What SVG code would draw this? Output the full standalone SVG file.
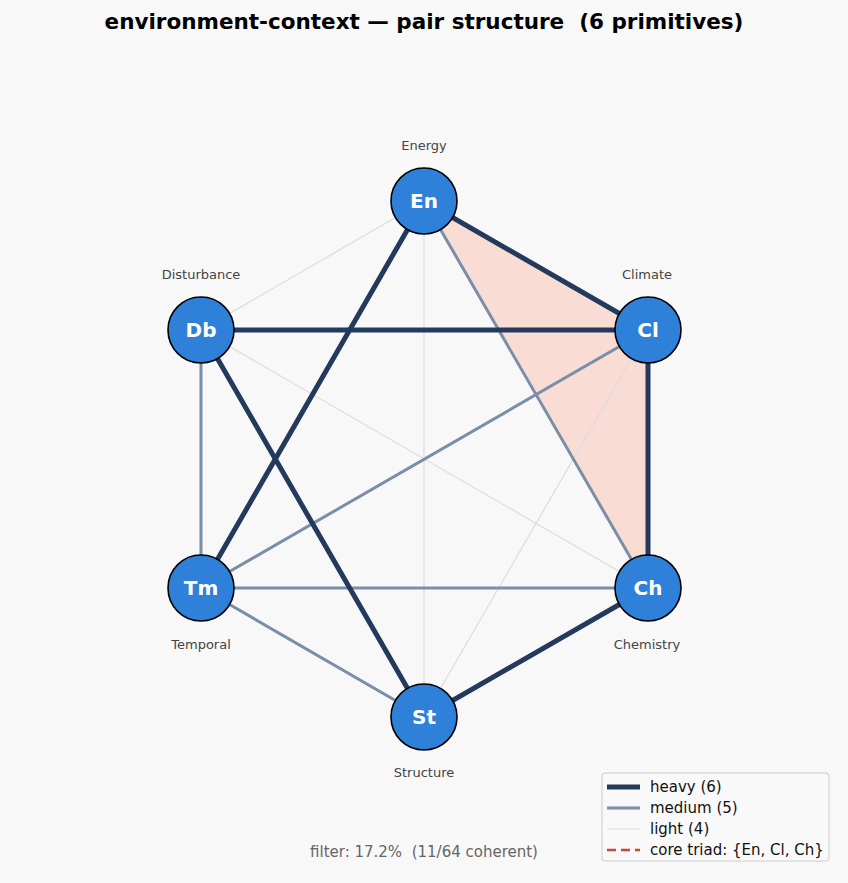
<svg xmlns="http://www.w3.org/2000/svg" width="848" height="883" viewBox="0 0 848 883">
<style>
.bg{fill:#f8f8f8}
text{white-space:pre}
.title{font-family:"DejaVu Sans",sans-serif;font-weight:bold;font-size:21.5px;fill:#000;text-anchor:middle}
.heavy{stroke:#233a5c;stroke-width:5;stroke-linecap:round;fill:none}
.medium{stroke:#7a8ea8;stroke-width:3;fill:none}
.light{stroke:#dcdcdc;stroke-width:1.2;fill:none}
.node circle{fill:#2f80d8;stroke:#000;stroke-width:1.6}
.node .ab{font-family:"DejaVu Sans",sans-serif;font-weight:bold;font-size:20px;fill:#fff;text-anchor:middle}
.node .nm{font-family:"DejaVu Sans",sans-serif;font-size:13px;fill:#444;text-anchor:middle}
.lg{font-family:"DejaVu Sans",sans-serif;font-size:15px;fill:#111}
.foot{font-family:"DejaVu Sans",sans-serif;font-size:15px;fill:#666;text-anchor:middle}
</style>
<rect class="bg" x="0" y="0" width="848" height="883"/>
<text class="title" x="424" y="29" xml:space="preserve">environment-context — pair structure  (6 primitives)</text>
<polygon id="triad" points="424,201 648,330 648,588" fill="#f9ddd5" stroke="none"/>
<g id="connectors">
<line class="light" x1="424" y1="201" x2="201" y2="330"/>
<line class="light" x1="424" y1="201" x2="424" y2="717"/>
<line class="light" x1="201" y1="330" x2="648" y2="588"/>
<line class="light" x1="648" y1="330" x2="424" y2="717"/>
<line class="medium" x1="424" y1="201" x2="648" y2="588"/>
<line class="medium" x1="648" y1="330" x2="201" y2="588"/>
<line class="medium" x1="201" y1="330" x2="201" y2="588"/>
<line class="medium" x1="201" y1="588" x2="648" y2="588"/>
<line class="medium" x1="201" y1="588" x2="424" y2="717"/>
<line class="heavy" x1="424" y1="201" x2="648" y2="330"/>
<line class="heavy" x1="648" y1="330" x2="648" y2="588"/>
<line class="heavy" x1="424" y1="201" x2="201" y2="588"/>
<line class="heavy" x1="201" y1="330" x2="648" y2="330"/>
<line class="heavy" x1="201" y1="330" x2="424" y2="717"/>
<line class="heavy" x1="424" y1="717" x2="648" y2="588"/>
</g>
<g id="node-En" class="node"><text class="nm" x="424" y="150">Energy</text><circle cx="424" cy="201" r="33"/><text class="ab" x="424" y="208">En</text></g>
<g id="node-Cl" class="node"><text class="nm" x="647" y="279">Climate</text><circle cx="648" cy="330" r="33"/><text class="ab" x="648" y="337">Cl</text></g>
<g id="node-Ch" class="node"><text class="nm" x="647" y="649">Chemistry</text><circle cx="648" cy="588" r="33"/><text class="ab" x="648" y="595">Ch</text></g>
<g id="node-St" class="node"><text class="nm" x="424" y="777">Structure</text><circle cx="424" cy="717" r="33"/><text class="ab" x="424" y="724">St</text></g>
<g id="node-Tm" class="node"><text class="nm" x="201" y="649">Temporal</text><circle cx="201" cy="588" r="33"/><text class="ab" x="201" y="595">Tm</text></g>
<g id="node-Db" class="node"><text class="nm" x="201" y="279">Disturbance</text><circle cx="201" cy="330" r="33"/><text class="ab" x="201" y="337">Db</text></g>
<g id="legend">
<rect x="602" y="773" width="227" height="88" rx="3" fill="#f9f9f9" stroke="#cccccc" stroke-width="1"/>
<line x1="607" y1="787" x2="640" y2="787" stroke="#233a5c" stroke-width="5"/>
<line x1="607" y1="808" x2="640" y2="808" stroke="#7a8ea8" stroke-width="3"/>
<line x1="607" y1="829" x2="640" y2="829" stroke="#dcdcdc" stroke-width="1.2"/>
<line x1="607" y1="850" x2="640" y2="850" stroke="#d0453a" stroke-width="2.5" stroke-dasharray="9,5"/>
<text class="lg" x="650" y="792">heavy (6)</text>
<text class="lg" x="650" y="813">medium (5)</text>
<text class="lg" x="650" y="834">light (4)</text>
<text class="lg" x="650" y="855">core triad: {En, Cl, Ch}</text>
</g>
<text class="foot" x="424" y="857" xml:space="preserve">filter: 17.2%  (11/64 coherent)</text>
</svg>
